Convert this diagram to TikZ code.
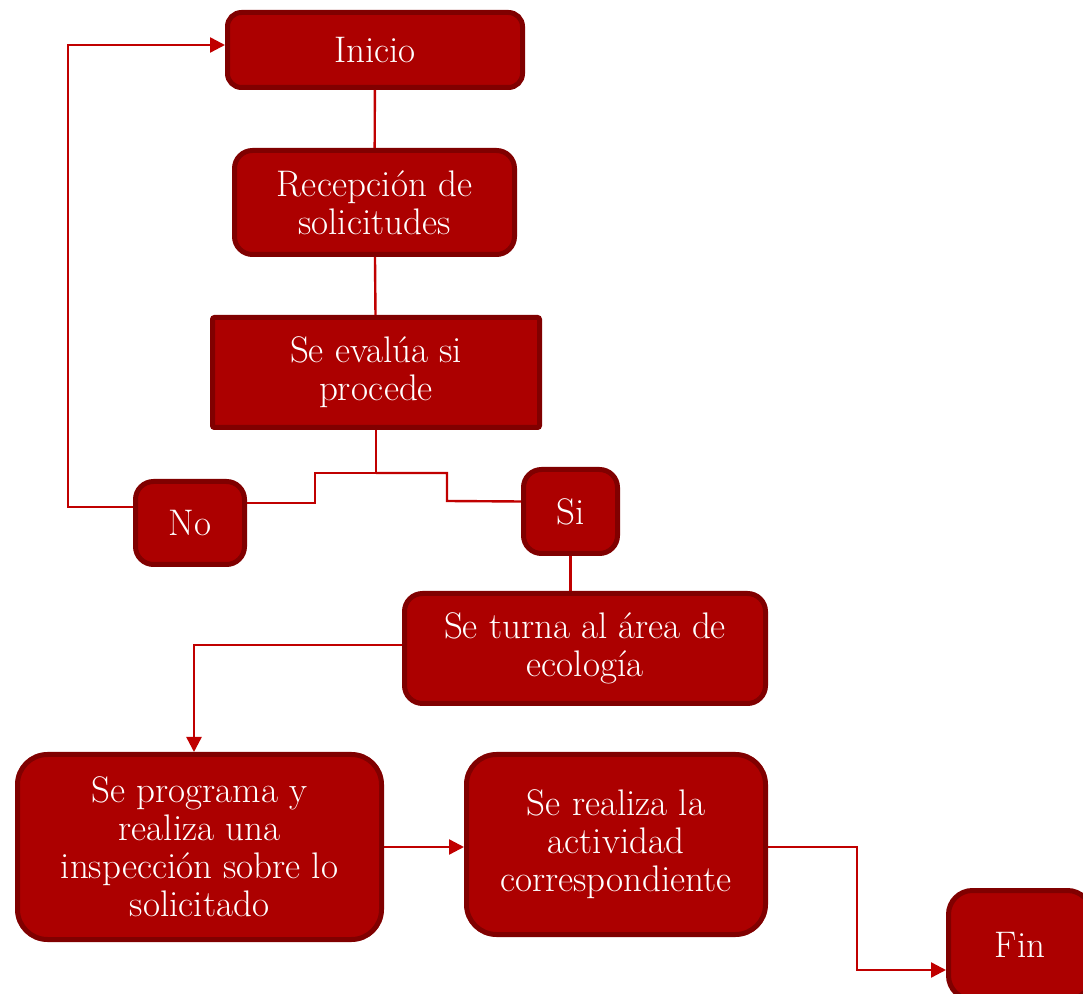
\documentclass[tikz,border=0pt]{standalone}
\usetikzlibrary{positioning, arrows.meta}
\definecolor{boxfill}{RGB}{172,0,0}
\definecolor{boxline}{RGB}{128,0,0}
\definecolor{flowline}{RGB}{192,0,0}

\begin{document}
\begin{tikzpicture}[x=0.5pt, y=-0.5pt,
    proc/.style={draw=boxline, fill=boxfill, line width=2.5pt, rounded corners=9pt,
        text=white, align=center, inner sep=2pt, font=\fontsize{18.5}{19}\selectfont},
    flow/.style={draw=flowline, line width=1.2pt},
    >={Triangle[length=7.5pt, width=7.5pt]}]
    \clip (0,0) rectangle (1083,994);

    \node[proc, rounded corners=7pt, minimum width=147.5pt, minimum height=37.5pt] (inicio) at (375,50) {Inicio};
    \node[proc, minimum width=140pt, minimum height=52pt] (recep) at (374.5,202.5) {Recepción de\\solicitudes};
    \node[proc, rounded corners=1pt, minimum width=163.5pt, minimum height=55pt] (eval) at (376,372.5) {Se evalúa si\\procede};
    \node[proc, minimum width=54.5pt, minimum height=41.5pt] (no) at (190,523) {No};
    \node[proc, minimum width=47pt, minimum height=42pt] (si) at (570.5,511.5) {Si};
    \node[proc, minimum width=180.5pt, minimum height=55pt] (turna) at (585,648.5) {Se turna al área de\\ecología};
    \node[proc, rounded corners=15pt, minimum width=182pt, minimum height=92.5pt] (prog) at (199.5,847) {Se programa y\\realiza una\\inspección sobre lo\\solicitado};
    \node[proc, rounded corners=15pt, minimum width=149.5pt, minimum height=90pt] (real) at (616,844.5) {Se realiza la\\actividad\\correspondiente};
    \node[proc, rounded corners=12pt, minimum width=71.5pt, minimum height=54.5pt] (fin) at (1020,945) {Fin};

    \coordinate (split) at (376,473);

    \draw[flow] (inicio) -- (recep);
    \draw[flow] (recep) -- (eval);
    \draw[flow] (eval.south) -- (split) -- (315,473) -- (315,503) -- ([yshift=10pt]no.east);
    \draw[flow] (split) -- (447,473) -- (447,501) -- ([yshift=5pt]si.west);
    \draw[flow, ->] ([yshift=8pt]no.west) -- (68,507) |- ([yshift=2.5pt]inicio.west);
    \draw[flow] (si.south) -- (si.south |- turna.north);
    \draw[flow, ->] ([yshift=1.75pt]turna.west) -| ([xshift=-2.75pt]prog.north);
    \draw[flow, ->] (prog.east) -- (prog.east -| real.west);
    \draw[flow, ->] (real.east |- prog.east) -- (857,847) |- ([yshift=-12.5pt]fin.west);
\end{tikzpicture}
\end{document}
